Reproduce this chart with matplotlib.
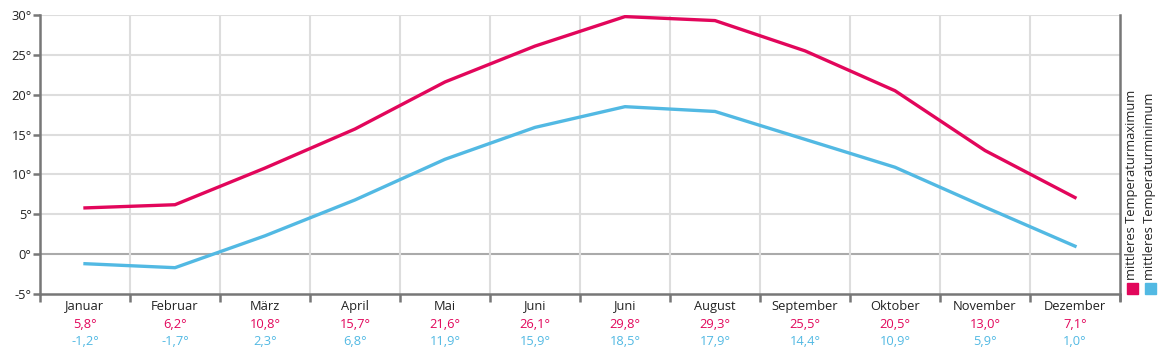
import numpy as np
import matplotlib
matplotlib.use("Agg")
from matplotlib import pyplot as plt
from matplotlib.patches import Rectangle
from matplotlib.ticker import FixedLocator

plt.rcParams['font.family'] = ['Open Sans', 'DejaVu Sans']

months = ["Januar", "Februar", "März", "April", "Mai", "Juni",
          "Juni", "August", "September", "Oktober", "November", "Dezember"]
t_max = [5.8, 6.2, 10.8, 15.7, 21.6, 26.1, 29.8, 29.3, 25.5, 20.5, 13.0, 7.1]
t_min = [-1.2, -1.7, 2.3, 6.8, 11.9, 15.9, 18.5, 17.9, 14.4, 10.9, 5.9, 1.0]
y_ticks = [-5, 0, 5, 10, 15, 20, 25, 30]

red = "#e2065b"
blue = "#52b9e3"
axis_grey = "#777777"
grid_grey = "#dddddd"
fs = 9.3

fig = plt.figure(figsize=(11.6, 3.5), dpi=100)
ax = fig.add_axes([40 / 1160, 1 - 294 / 350, 1080 / 1160, 279 / 350])

x = np.arange(len(months))
ax.plot(x, t_max, color=red, lw=2.4, solid_joinstyle="round", zorder=3)
ax.plot(x, t_min, color=blue, lw=2.4, solid_joinstyle="round", zorder=3)

ax.set_xlim(-0.5, len(months) - 0.5)
ax.set_ylim(-5, 30)

# horizontal grid, zero line a bit stronger
for v in y_ticks[1:]:
    ax.axhline(v, color="#aaaaaa" if v == 0 else grid_grey, lw=1.5, zorder=1)
bounds = np.arange(len(months) + 1) - 0.5
for b in bounds[1:-1]:
    ax.axvline(b, color=grid_grey, lw=1.5, zorder=1)

ax.spines["top"].set_visible(False)
for s in ["left", "bottom", "right"]:
    ax.spines[s].set_color(axis_grey)
    ax.spines[s].set_linewidth(1.8)
ax.spines["right"].set_bounds(-5.8, 30)

ax.set_yticks(y_ticks)
ax.set_yticklabels([f"{v}°" for v in y_ticks], fontsize=fs, color="#222222")
ax.tick_params(axis="y", length=5, width=1.8, color=axis_grey, pad=1)

ax.xaxis.set_major_locator(FixedLocator(x))
ax.set_xticklabels(months, fontsize=fs, color="#222222")
ax.tick_params(axis="x", which="major", length=0, pad=4)
ax.xaxis.set_minor_locator(FixedLocator(bounds))
ax.tick_params(axis="x", which="minor", length=6, width=1.8, color=axis_grey)

fmt = lambda v: f"{v:.1f}°".replace(".", ",")
for i in x:
    ax.annotate(fmt(t_max[i]), (i, 0), xycoords=("data", "axes fraction"),
                xytext=(0, -17.5), textcoords="offset points",
                ha="center", va="top", fontsize=fs, color=red)
    ax.annotate(fmt(t_min[i]), (i, 0), xycoords=("data", "axes fraction"),
                xytext=(0, -29.5), textcoords="offset points",
                ha="center", va="top", fontsize=fs, color=blue)

# vertical legend on the right
for xc, label, col in [(1132, "mittleres Temperaturmaximum", red),
                       (1150, "mittleres Temperaturminimum", blue)]:
    fig.patches.append(Rectangle(((xc - 5.5) / 1160, 1 - 294 / 350), 11 / 1160, 11 / 350,
                                 transform=fig.transFigure, color=col))
    fig.text(xc / 1160, 1 - 280 / 350, label, rotation=90, ha="center", va="bottom",
             fontsize=fs, color="#222222")

fig.savefig("out.png", dpi=100)
